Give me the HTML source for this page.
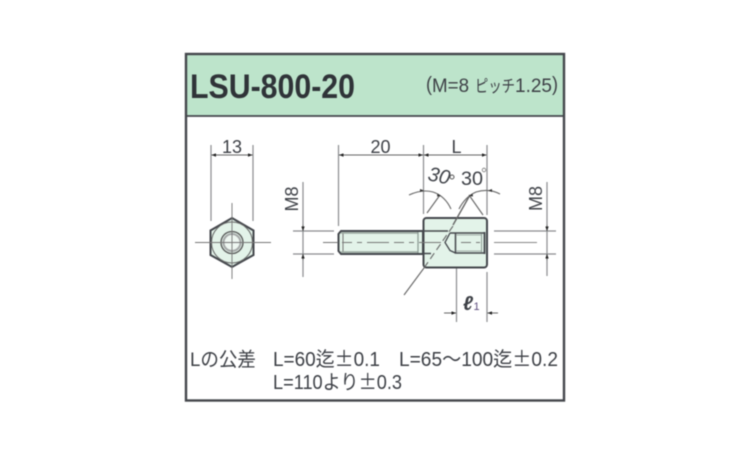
<!DOCTYPE html>
<html><head><meta charset="utf-8"><style>
html,body{margin:0;padding:0;background:#fff;width:750px;height:450px;overflow:hidden}
svg{display:block;filter:blur(.45px)}
text{font-family:"Liberation Sans","Noto Sans CJK JP",sans-serif;fill:#3d4046}
tspan.p{font-family:"Noto Sans CJK JP",sans-serif}
</style></head><body>
<svg width="750" height="450" viewBox="0 0 750 450" xmlns="http://www.w3.org/2000/svg">
<defs>
<marker id="a" viewBox="0 0 8 6" refX="8" refY="3" markerWidth="4.500" markerHeight="3.500" orient="auto-start-reverse"><path d="M0 0L8 3L0 6Z" fill="#222"/></marker>
</defs>
<rect x="186" y="54" width="378" height="62" fill="#bde4cb"/>
<rect x="186" y="54" width="378" height="346.500" fill="none" stroke="#44474c" stroke-width="2.400"/>
<line x1="186" y1="116" x2="564" y2="116" stroke="#44474c" stroke-width="1.800"/>
<text x="190" y="98" font-size="34" font-weight="bold" textLength="165" lengthAdjust="spacingAndGlyphs" style="fill:#2f3338">LSU-800-20</text>
<text x="426" y="91" font-size="20" textLength="6" lengthAdjust="spacingAndGlyphs">(</text>
<text x="432" y="92" font-size="19" textLength="37" lengthAdjust="spacingAndGlyphs">M=8</text>
<text x="475" y="92" font-size="17" textLength="40" lengthAdjust="spacingAndGlyphs">ピッチ</text>
<text x="515" y="92" font-size="19" textLength="37" lengthAdjust="spacingAndGlyphs">1.25</text>
<text x="552" y="91" font-size="20" textLength="6" lengthAdjust="spacingAndGlyphs">)</text>

<!-- extension lines -->
<g stroke="#8a8c8f" stroke-width="1.200" fill="none">
<path d="M211 145V221M253 145V221M338.500 145V226M423.500 145V214M487 145V215"/>
<path d="M303 182V277M293 231H334M293 254H334M547 182V276M494 231H556M494 254H556"/>
<path d="M456.500 263V322M487 272V322"/>
</g>

<!-- dims -->
<g stroke="#666" stroke-width="1" fill="none">
<line x1="211.500" y1="155" x2="252.500" y2="155" marker-start="url(#a)" marker-end="url(#a)"/>
<line x1="339" y1="155" x2="423" y2="155" marker-start="url(#a)" marker-end="url(#a)"/>
<line x1="424" y1="155" x2="486.500" y2="155" marker-start="url(#a)" marker-end="url(#a)"/>
<line x1="444" y1="313" x2="456" y2="313" marker-end="url(#a)"/>
<line x1="498" y1="313" x2="487.500" y2="313" marker-end="url(#a)"/>
<line x1="303" y1="225" x2="303" y2="231" marker-end="url(#a)"/>
<line x1="303" y1="260" x2="303" y2="254" marker-end="url(#a)"/>
<line x1="547" y1="225" x2="547" y2="231" marker-end="url(#a)"/>
<line x1="547" y1="260" x2="547" y2="254" marker-end="url(#a)"/>
</g>

<!-- hex end view -->
<polygon points="232,218 253.500,230.500 253.500,255 232,267 210.500,255 210.500,230.500" fill="#e3f3e9" stroke="#44474c" stroke-width="2"/>
<circle cx="232" cy="242.500" r="20.500" fill="none" stroke="#666" stroke-width="1"/>
<circle cx="232" cy="242.500" r="11" fill="#e3f3e9" stroke="#555" stroke-width="1.300"/>
<circle cx="232" cy="242.500" r="8.500" fill="#eef7f1" stroke="#a5a8a8" stroke-width="2"/>
<path d="M232 203V279M195 242.500H271" stroke="#777" stroke-width=".9"/>

<!-- stud -->
<path d="M423 231H341L338.500 234V251L341 254H423Z" fill="#e3f3e9" stroke="#44474c" stroke-width="2"/>
<path d="M343 232.500V252.500" stroke="#777" stroke-width="1"/>
<path d="M341 233H418M341 252H418" stroke="#9aa8a0" stroke-width="1.500" fill="none"/>
<path d="M418 232V253" stroke="#8a9a92" stroke-width="1.200"/>

<!-- body -->
<rect x="423.500" y="218" width="63.500" height="49.500" rx="3" fill="#e3f3e9" stroke="#44474c" stroke-width="2"/>
<path d="M423.500 231H448M423.500 253.500H431" stroke="#44474c" stroke-width="1.600" fill="none"/>
<path d="M484.500 233H455.500V253H484.500M450 233H455.500" stroke="#44474c" stroke-width="1.500" fill="none"/>
<path d="M450 233L445 242.500L450 250.500L455.500 253" stroke="#44474c" stroke-width="1.300" fill="none"/>
<path d="M484.500 232V254" stroke="#44474c" stroke-width="1.800"/>
<path d="M481.500 234V252" stroke="#8a9a92" stroke-width="1"/>
<path d="M456 235H481M456 251H481" stroke="#a5b0aa" stroke-width="1"/>

<!-- centre line -->
<line x1="323" y1="242.500" x2="338" y2="242.500" stroke="#777" stroke-width="1"/>
<line x1="342" y1="242.500" x2="444" y2="242.500" stroke="#777" stroke-width="1" stroke-dasharray="10 5 5 5 22 5"/>
<line x1="461" y1="242.500" x2="480" y2="242.500" stroke="#777" stroke-width="1" stroke-dasharray="10 5"/>
<line x1="494" y1="242.500" x2="537" y2="242.500" stroke="#888" stroke-width="1"/>

<!-- angled lines -->
<g fill="none" stroke="#666" stroke-width="1.100">
<path d="M404 295L424 268"/>
<path d="M424 268L453 226" stroke-dasharray="7 4"/>
<path d="M453 225L470 195" stroke-width="1.400"/>
<path d="M427 213L440 195M469 195L483 215"/>
<path d="M409 195Q422 189 433 192Q445 196 451 209"/>
<path d="M459 209Q465 197 476 192Q489 188 500 194"/>
</g>
<g fill="#333">
<path d="M424 190.500l-4-1.500v3zM488 190.500l4-1.500v3zM441 196l-3.500-2.500l-.5 3zM469 196l3.500-2.500l.5 3z"/>
</g>

<!-- labels -->
<text x="232" y="153" font-size="18" text-anchor="middle">13</text>
<text x="380.500" y="153" font-size="18" text-anchor="middle">20</text>
<text x="456.500" y="153" font-size="18" text-anchor="middle">L</text>
<text transform="translate(298,199) rotate(-90)" font-size="18" text-anchor="middle">M8</text>
<text transform="translate(542,198.500) rotate(-90)" font-size="18" text-anchor="middle">M8</text>
<text transform="translate(427,180) rotate(12)" font-size="20" font-style="italic" textLength="22" lengthAdjust="spacingAndGlyphs">30</text>
<circle cx="452" cy="177" r="2" fill="none" stroke="#555" stroke-width="1"/>
<text x="461" y="185" font-size="19.500" textLength="22" lengthAdjust="spacingAndGlyphs">30</text>
<circle cx="484" cy="170" r="1.800" fill="none" stroke="#777" stroke-width=".8"/>
<text x="463" y="310" font-size="20" font-weight="bold" font-style="italic" textLength="10" lengthAdjust="spacingAndGlyphs">ℓ</text>
<text x="473.500" y="310" font-size="11" style="fill:#5a4a7a">1</text>

<text x="190" y="366" font-size="19.500" textLength="66" lengthAdjust="spacingAndGlyphs">Lの公差</text>
<text x="273" y="366" font-size="20" textLength="107" lengthAdjust="spacingAndGlyphs">L=60迄<tspan class="p">±</tspan>0.1</text>
<text x="399" y="366" font-size="20" textLength="159" lengthAdjust="spacingAndGlyphs">L=65～100迄<tspan class="p">±</tspan>0.2</text>
<text x="273" y="389" font-size="20" textLength="129" lengthAdjust="spacingAndGlyphs">L=110より<tspan class="p">±</tspan>0.3</text>
</svg>
</body></html>
